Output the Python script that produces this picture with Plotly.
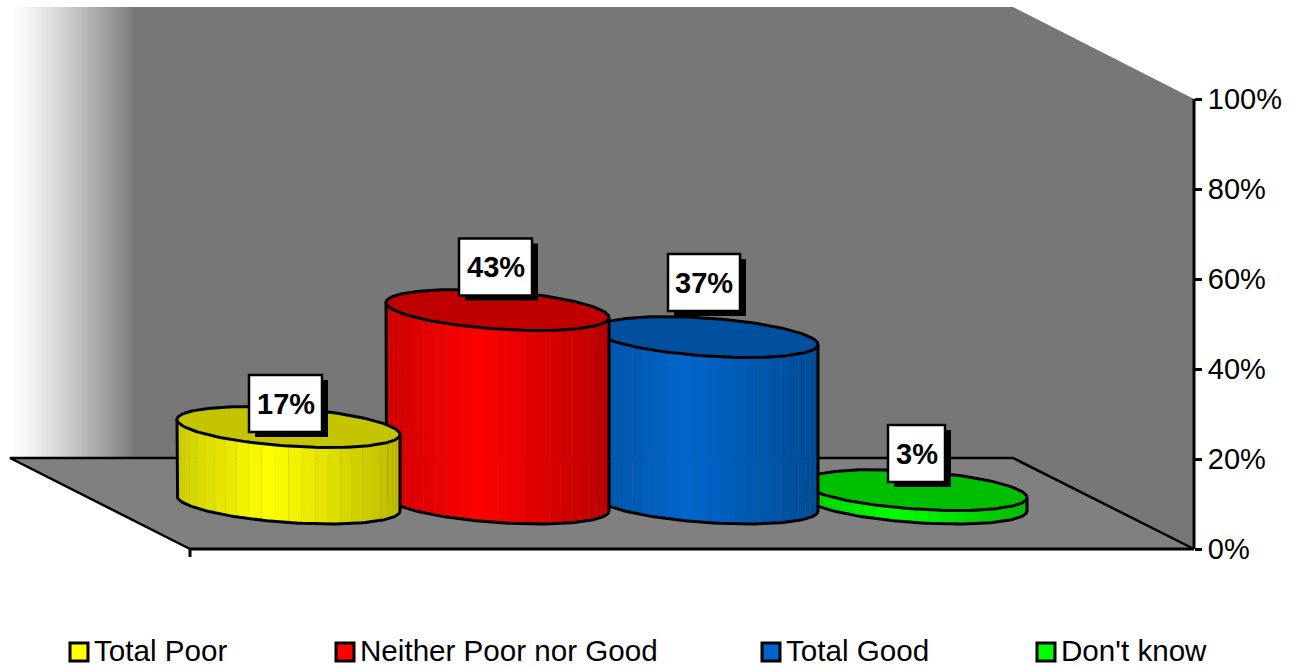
import numpy as np
import plotly.graph_objects as go

# Chart data
categories = ["Total Poor", "Neither Poor nor Good", "Total Good", "Don't know"]
percent_values = [17, 43, 37, 3]
axis_ticks = [0, 20, 40, 60, 80, 100]
axis_tick_labels = ["0%", "20%", "40%", "60%", "80%", "100%"]

# Colours per series: side hue and darker cap
side_colours = [(255, 255, 0), (255, 0, 0), (0, 102, 204), (0, 255, 0)]
cap_colours = ["#C4C400", "#BF0000", "#00509F", "#00BF00"]

# Canvas and scale geometry
W, H = 1294, 667
FONT = "Liberation Sans, Arial, sans-serif"
PX_PER_PERCENT = 4.5
PX_PER_SLOT = 209.0
FIRST_SLOT_PX = 288.5
ZERO_PX = 549.0
AXIS_X_PX = 1194.0

# Cylinder geometry, in pixels
HALF_WIDTH_PX = 111.5
ELLIPSE_RY_PX = 19.0
ELLIPSE_SHEAR_PX = 7.5
FLOOR_LIFT = 10.1
BANDS = 26

# Data label placement relative to the cylinder top, and box size
label_dx = [-3, -2, -2.5, 1]
label_dy = [23.5, 43, 54.5, 36.5]
label_box_w = [73, 73, 72, 57]
LABEL_BOX_H = 57

# Frame colours
WALL = "#777777"
FLOOR = "#808080"


def px(p):
    return p / W


def py(p):
    return 1 - p / H


def shade(rgb, f):
    return "rgb({},{},{})".format(*[int(round(c * f)) for c in rgb])


def side_factor(frac):
    # Brightest a little left of centre, falling away towards both edges
    peak = 0.42
    if frac < peak:
        return 1 - 0.19 * (peak - frac) / peak
    return 1 - 0.27 * (frac - peak) / (1 - peak)


def ellipse(slot, level, t):
    x = slot + HALF_WIDTH_PX / PX_PER_SLOT * np.cos(t)
    y = level - (ELLIPSE_SHEAR_PX * np.cos(t) + ELLIPSE_RY_PX * np.sin(t)) / PX_PER_PERCENT
    return x, y


fig = go.Figure()

# Cylinders run back to front so that each one overlaps its right-hand neighbour
for i in reversed(range(len(categories))):
    value = percent_values[i]
    top = FLOOR_LIFT + value
    edges = np.linspace(np.pi, 0, BANDS + 1)
    for a, b in zip(edges[:-1], edges[1:]):
        t = np.linspace(a, b, 5)
        xt, yt = ellipse(i, top, t)
        xb, yb = ellipse(i, FLOOR_LIFT, t[::-1])
        frac = (1 + np.cos((a + b) / 2)) / 2
        fig.add_trace(go.Scatter(
            x=np.concatenate([xt, xb]), y=np.concatenate([yt, yb]),
            mode="lines", fill="toself", fillcolor=shade(side_colours[i], side_factor(frac)),
            line=dict(width=0.4, color=shade(side_colours[i], 0.82)),
            hoverinfo="skip", showlegend=False,
        ))
    # Outline of the curved side
    t = np.linspace(np.pi, 0, 90)
    xb, yb = ellipse(i, FLOOR_LIFT, t)
    x0, y0 = ellipse(i, top, np.array([np.pi]))
    x1, y1 = ellipse(i, top, np.array([0.0]))
    fig.add_trace(go.Scatter(
        x=np.concatenate([x0, xb, x1]), y=np.concatenate([y0, yb, y1]),
        mode="lines", line=dict(color="black", width=3),
        hoverinfo="skip", showlegend=False,
    ))
    # Cap
    t = np.linspace(0, 2 * np.pi, 181)
    xc, yc = ellipse(i, top, t)
    fig.add_trace(go.Scatter(
        x=xc, y=yc, mode="lines", fill="toself", fillcolor=cap_colours[i],
        line=dict(color="black", width=3),
        hoverinfo="skip", showlegend=False, name=categories[i],
    ))

shapes = []

# Back wall fade, white at the far left
FADE_START, FADE_END = 10, 136
wall_rgb = (0x77, 0x77, 0x77)
for xp in range(FADE_START, FADE_END):
    f = ((xp - FADE_START) / (FADE_END - FADE_START)) ** 1.25
    c = [int(round(255 + (w - 255) * f)) for w in wall_rgb]
    shapes.append(dict(
        type="rect", xref="paper", yref="paper", layer="below",
        x0=px(xp), x1=px(xp + 1), y0=py(458), y1=py(7),
        fillcolor="rgb({},{},{})".format(*c), line=dict(width=0),
    ))


def polygon(points, fill=None, line=None):
    path = "M " + " L ".join(f"{px(a):.5f},{py(b):.5f}" for a, b in points)
    if fill:
        path += " Z"
    return dict(type="path", xref="paper", yref="paper", layer="below", path=path,
                fillcolor=fill if fill else "rgba(0,0,0,0)",
                line=line if line else dict(width=0))


# Back and side wall
shapes.append(polygon([(FADE_END, 7), (1013, 7), (AXIS_X_PX, 99), (AXIS_X_PX, ZERO_PX), (1013, 458), (FADE_END, 458)], fill=WALL))
# Floor
shapes.append(polygon([(10, 458), (1013, 458), (AXIS_X_PX, ZERO_PX), (190, ZERO_PX)], fill=FLOOR))
# Floor edges, value axis line and category tick
edge = dict(color="black", width=2.5)
shapes.append(polygon([(190, ZERO_PX), (10, 458), (1013, 458), (AXIS_X_PX, ZERO_PX)], line=edge))
heavy = dict(color="black", width=3)
shapes.append(polygon([(190, 557), (190, ZERO_PX), (AXIS_X_PX, ZERO_PX)], line=heavy))
shapes.append(polygon([(AXIS_X_PX, ZERO_PX), (AXIS_X_PX, 99)], line=dict(color="black", width=3)))

# Data labels: drop shadow, white box, then the text
annotations = []
for i, value in enumerate(percent_values):
    anchor = FLOOR_LIFT + value
    half = label_box_w[i] / 2
    up = label_dy[i]
    dx = label_dx[i]
    common = dict(type="rect", xref="x", yref="y", xsizemode="pixel", ysizemode="pixel",
                  xanchor=i, yanchor=anchor, layer="above")
    shapes.append(dict(common, x0=dx - half + 6, x1=dx + half + 6,
                       y0=up - LABEL_BOX_H / 2 - 5, y1=up + LABEL_BOX_H / 2 - 5,
                       fillcolor="black", line=dict(width=0)))
    shapes.append(dict(common, x0=dx - half, x1=dx + half,
                       y0=up - LABEL_BOX_H / 2, y1=up + LABEL_BOX_H / 2,
                       fillcolor="white", line=dict(color="black", width=2.5)))
    annotations.append(dict(
        x=i, y=anchor, xref="x", yref="y", xshift=dx, yshift=up,
        text=f"<b>{value}%</b>", showarrow=False, xanchor="center", yanchor="middle",
        font=dict(family=FONT, size=29, color="black"),
    ))

# Legend row
legend_key_px = [69, 335, 761, 1036]
LEGEND_TOP, LEGEND_BOTTOM, KEY_SIZE = 643, 661, 18
for i, name in enumerate(categories):
    kx = legend_key_px[i]
    shapes.append(dict(
        type="rect", xref="paper", yref="paper", layer="above",
        x0=px(kx + 1), x1=px(kx + 1 + KEY_SIZE), y0=py(LEGEND_BOTTOM), y1=py(LEGEND_TOP),
        fillcolor=shade(side_colours[i], 1.0), line=dict(color="black", width=3),
    ))
    annotations.append(dict(
        x=px(kx + 24), y=py(650.2), xref="paper", yref="paper", text=name,
        showarrow=False, xanchor="left", yanchor="middle", borderpad=0,
        font=dict(family=FONT, size=29.6, color="black"),
    ))

fig.update_layout(
    width=W, height=H, margin=dict(l=0, r=0, t=0, b=0),
    paper_bgcolor="white", plot_bgcolor="rgba(0,0,0,0)",
    showlegend=False, shapes=shapes, annotations=annotations,
    xaxis=dict(visible=False, fixedrange=True,
               range=[(0 - FIRST_SLOT_PX) / PX_PER_SLOT, (W - FIRST_SLOT_PX) / PX_PER_SLOT]),
    yaxis=dict(
        anchor="free", position=AXIS_X_PX / W, side="right", fixedrange=True,
        range=[(ZERO_PX - H) / PX_PER_PERCENT, ZERO_PX / PX_PER_PERCENT],
        tickmode="array", tickvals=axis_ticks, ticktext=axis_tick_labels,
        ticks="outside", ticklen=7, tickwidth=2.5, tickcolor="black",
        ticklabelstandoff=0, showgrid=False, zeroline=False, showline=False,
        tickfont=dict(family=FONT, size=29, color="black"),
    ),
)

fig.write_html("out.html", config=dict(displayModeBar=False))
